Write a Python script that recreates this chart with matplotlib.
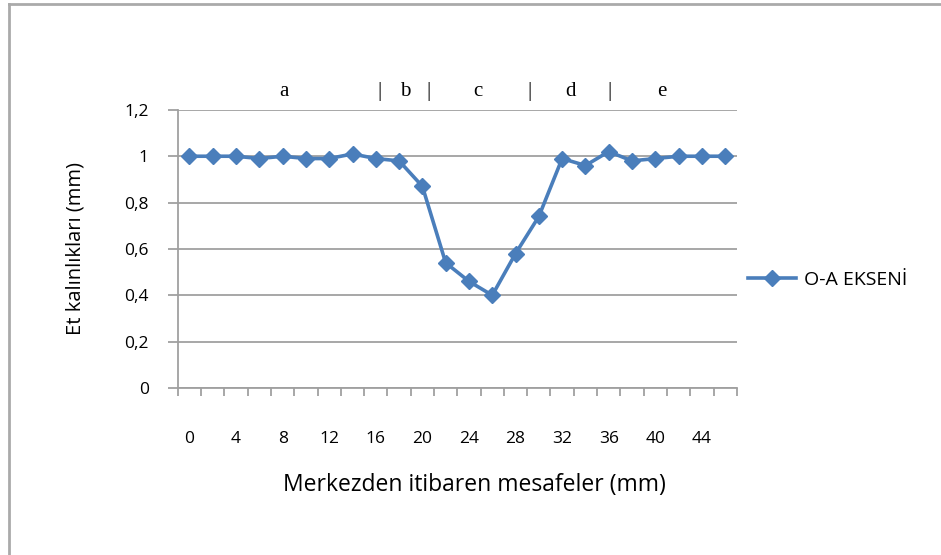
import matplotlib
matplotlib.use("Agg")
import matplotlib.pyplot as plt
import matplotlib.transforms as mtransforms
from matplotlib.lines import Line2D

# data
distance_mm = [0, 2, 4, 6, 8, 10, 12, 14, 16, 18, 20, 22,
               24, 26, 28, 30, 32, 34, 36, 38, 40, 42, 44, 46]
thickness = [1.00, 1.00, 1.00, 0.99, 1.00, 0.99, 0.99, 1.01, 0.99, 0.98, 0.87, 0.54,
             0.46, 0.40, 0.58, 0.74, 0.99, 0.96, 1.02, 0.98, 0.99, 1.00, 1.00, 1.00]
series_name = "O-A EKSENİ"
x_tick_labels = [0, 4, 8, 12, 16, 20, 24, 28, 32, 36, 40, 44]
y_ticks = [0, 0.2, 0.4, 0.6, 0.8, 1.0, 1.2]

# region letters and separators drawn above the plot
region_labels = ["a", "|", "b", "|", "c", "|", "d", "|", "e"]
region_x = [8.1, 16.3, 18.5, 20.5, 24.8, 29.2, 32.7, 36.1, 40.6]

blue = "#4a7ebb"
grey = "#a0a0a0"
sans = ["Open Sans", "DejaVu Sans"]

fig = plt.figure(figsize=(9.41, 5.55), dpi=100)
ax = fig.add_axes([0.189, 0.301, 0.594, 0.501])

ax.plot(distance_mm, thickness, color=blue, lw=2.6, marker="D", markersize=8,
        markeredgecolor=blue, markerfacecolor=blue)

ax.set_xlim(-1, 47)
ax.set_ylim(0, 1.2)

ax.set_xticks(x_tick_labels)
ax.set_xticklabels([str(v) for v in x_tick_labels], fontsize=12.5, family=sans)
ax.tick_params(axis="x", length=0, pad=31)
ax.set_xticks(range(-1, 48, 2), minor=True)
ax.tick_params(axis="x", which="minor", length=6, width=1.3, color=grey, direction="out")

ax.set_yticks(y_ticks)
ax.set_yticklabels(["0" if v == 0 else ("1" if v == 1 else f"{v:.1f}".replace(".", ","))
                    for v in y_ticks], fontsize=12.5, family=sans)
ax.tick_params(axis="y", length=7, width=1.3, color=grey, pad=14)

ax.yaxis.grid(True, color=grey, lw=1.3)
ax.set_axisbelow(True)
for side in ["top", "right"]:
    ax.spines[side].set_visible(False)
for side in ["left", "bottom"]:
    ax.spines[side].set_color(grey)
    ax.spines[side].set_linewidth(1.3)

ax.set_xlabel("Merkezden itibaren mesafeler (mm)", fontsize=16.5, family=sans, labelpad=19)
ax.xaxis.label.set_x(0.53)
ax.set_ylabel("Et kalınlıkları (mm)", fontsize=14.5, family=sans, labelpad=28)

trans = mtransforms.blended_transform_factory(ax.transData, ax.transAxes)
for lab, xv in zip(region_labels, region_x):
    ax.text(xv, 1.065, lab, transform=trans, ha="center", va="center",
            fontsize=15, family="Liberation Serif", clip_on=False)

handle = Line2D([], [], color=blue, lw=2.6, marker="D", markersize=8)
fig.legend([handle], [series_name], loc="center left", bbox_to_anchor=(0.776, 0.495),
           frameon=False, prop={"family": sans, "size": 14}, handlelength=2.5,
           handletextpad=0.4)

# outer chart frame (only left and top edges visible in the crop)
fig.add_artist(Line2D([0.0095, 0.0095], [0, 0.993], transform=fig.transFigure,
                      color="#aaaaaa", lw=2))
fig.add_artist(Line2D([0.0095, 1.0], [0.993, 0.993], transform=fig.transFigure,
                      color="#aaaaaa", lw=2))

fig.savefig("out.png", dpi=100)
